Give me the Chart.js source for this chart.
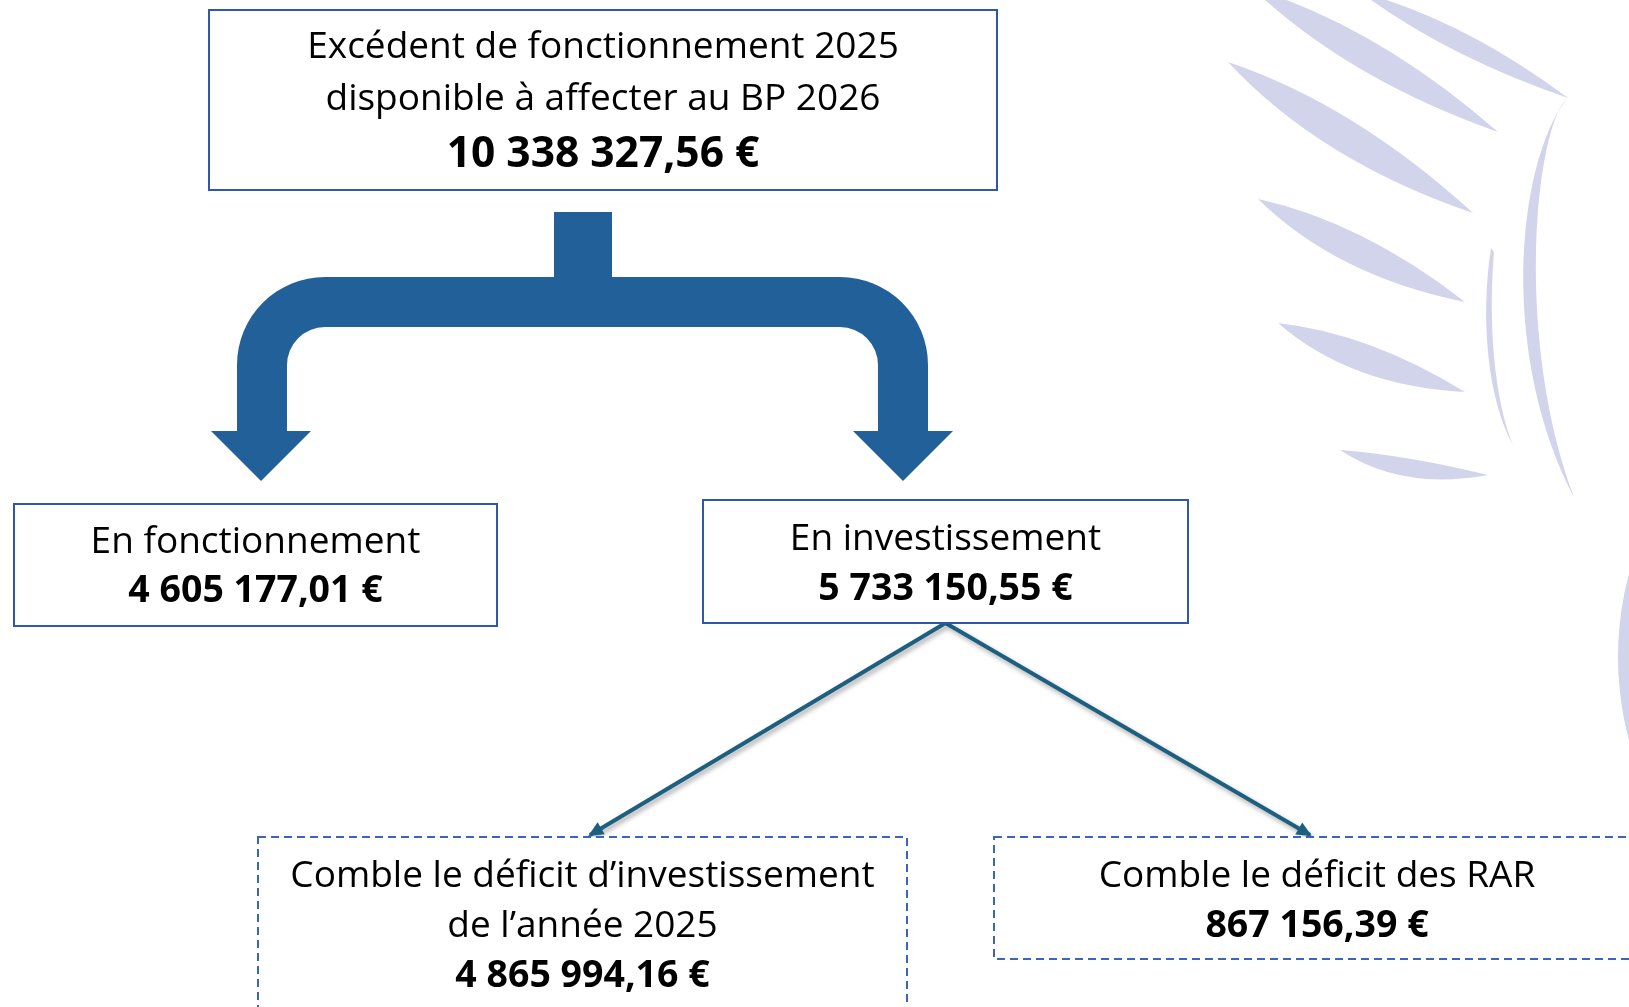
<!DOCTYPE html>
<html lang="fr">
<head>
  <meta charset="UTF-8">
  <title>Affectation du résultat 2025</title>
  <script src="https://cdn.jsdelivr.net/npm/chart.js"></script>
  <style>
    html, body { margin: 0; padding: 0; background: #fff; }
    canvas { display: block; }
  </style>
</head>
<body>
  <canvas id="schema" width="1629" height="1007"></canvas>

  <script>
    // Libellés et montants (le total se répartit entre les deux branches)
    const libelles = [
      ['Excédent de fonctionnement 2025', 'disponible à affecter au BP 2026'],
      ['En fonctionnement'],
      ['En investissement'],
      ['Comble le déficit d’investissement', 'de l’année 2025'],
      ['Comble le déficit des RAR']
    ];
    const montants = [10338327.56, 4605177.01, 5733150.55, 4865994.16, 867156.39];

    // Mise en page des cadres (unités des axes = pixels de l'image)
    const cadreX0 = [209, 14, 703, 258, 994];
    const cadreX1 = [997, 497, 1188, 907, 1660];
    const cadreY0 = [10, 504, 500, 837, 837];
    const cadreY1 = [190, 626, 623, 1030, 959];
    const premiereLigne = [58, 553, 550, 887, 887];
    const interligne = [52, 49, 50, 50, 50];
    const tailleMontant = [42.5, 37.5, 37.5, 37.5, 37.5];
    const pointilles = [false, false, false, true, true];

    // liens fléchés : cadre parent -> cadre enfant
    const liens = [[2, 3, 590], [2, 4, 1310]];

    function formatEuro(v) {
      const parts = v.toFixed(2).split('.');
      return parts[0].replace(/\B(?=(\d{3})+(?!\d))/g, ' ') + ',' + parts[1] + ' €';
    }

    const datasets = liens.map(l => ({
      type: 'line',
      data: [
        { x: (cadreX0[l[0]] + cadreX1[l[0]]) / 2, y: cadreY1[l[0]] },
        { x: l[2], y: cadreY0[l[1]] - 2 }
      ],
      borderColor: '#1d5f80',
      borderWidth: 4,
      pointRadius: 0,
      fill: false,
      clip: false
    }));

    const fondDessin = {
      id: 'fondDessin',
      beforeDatasetsDraw(chart) {
        const ctx = chart.ctx;
        const X = v => chart.scales.x.getPixelForValue(v);
        const Y = v => chart.scales.y.getPixelForValue(v);
        ctx.save();
        ctx.fillStyle = 'rgb(209,212,234)';
        // traits du filigrane : [x0, y0, x1, y1, courbure haute, courbure basse]
        const traits = [
          [1252, -12, 1498, 132, -30, 30],
          [1228, 62, 1473, 213, -30, 36],
          [1258, 199, 1465, 302, -26, 34],
          [1278, 323, 1465, 392, -22, 34],
          [1340, 450, 1488, 475, -6, 30],
          [1360, -8, 1568, 98, -22, 18]
        ];
        traits.forEach(t => {
          const [x0, y0, x1, y1, a, b] = t;
          const dx = x1 - x0, dy = y1 - y0, len = Math.hypot(dx, dy);
          const nx = -dy / len, ny = dx / len;
          const mx = x0 + dx * 0.45, my = y0 + dy * 0.45;
          ctx.beginPath();
          ctx.moveTo(X(x0), Y(y0));
          ctx.quadraticCurveTo(X(mx + nx * a), Y(my + ny * a), X(x1), Y(y1));
          ctx.quadraticCurveTo(X(mx + nx * b), Y(my + ny * b), X(x0), Y(y0));
          ctx.fill();
        });
        // grande courbe verticale
        ctx.beginPath();
        ctx.moveTo(X(1568), Y(96));
        ctx.bezierCurveTo(X(1513), Y(170), X(1502), Y(360), X(1574), Y(497));
        ctx.bezierCurveTo(X(1522), Y(360), X(1530), Y(175), X(1558), Y(112));
        ctx.closePath();
        ctx.fill();
        // fine courbe intérieure
        ctx.beginPath();
        ctx.moveTo(X(1491), Y(248));
        ctx.bezierCurveTo(X(1480), Y(320), X(1488), Y(400), X(1513), Y(445));
        ctx.bezierCurveTo(X(1494), Y(400), X(1488), Y(320), X(1494), Y(252));
        ctx.closePath();
        ctx.fill();
        // disque coupé au bord droit
        ctx.beginPath();
        ctx.arc(X(1938), Y(657), 320, 0, Math.PI * 2);
        ctx.fill();
        ctx.restore();

        // grande flèche bleue à deux branches
        ctx.save();
        ctx.fillStyle = '#22609a';
        ctx.beginPath();
        ctx.moveTo(X(554), Y(212));
        ctx.lineTo(X(612), Y(212));
        ctx.lineTo(X(612), Y(277));
        ctx.lineTo(X(840), Y(277));
        ctx.arcTo(X(928), Y(277), X(928), Y(365), 88);
        ctx.lineTo(X(928), Y(431));
        ctx.lineTo(X(953), Y(431));
        ctx.lineTo(X(903), Y(481));
        ctx.lineTo(X(853), Y(431));
        ctx.lineTo(X(878), Y(431));
        ctx.lineTo(X(878), Y(365));
        ctx.arcTo(X(878), Y(327), X(840), Y(327), 38);
        ctx.lineTo(X(325), Y(327));
        ctx.arcTo(X(287), Y(327), X(287), Y(365), 38);
        ctx.lineTo(X(287), Y(431));
        ctx.lineTo(X(311), Y(431));
        ctx.lineTo(X(261), Y(481));
        ctx.lineTo(X(211), Y(431));
        ctx.lineTo(X(237), Y(431));
        ctx.lineTo(X(237), Y(365));
        ctx.arcTo(X(237), Y(277), X(325), Y(277), 88);
        ctx.lineTo(X(554), Y(277));
        ctx.closePath();
        ctx.fill();
        ctx.restore();
      },
      beforeDatasetDraw(chart) {
        const ctx = chart.ctx;
        ctx.save();
        ctx.shadowColor = 'rgba(0,0,0,0.35)';
        ctx.shadowBlur = 5;
        ctx.shadowOffsetX = 2;
        ctx.shadowOffsetY = 3;
      },
      afterDatasetDraw(chart) {
        chart.ctx.restore();
      },
      afterDatasetsDraw(chart) {
        const ctx = chart.ctx;
        const X = v => chart.scales.x.getPixelForValue(v);
        const Y = v => chart.scales.y.getPixelForValue(v);

        // pointes des liens
        chart.data.datasets.forEach(ds => {
          const a = ds.data[0], b = ds.data[1];
          const x0 = X(a.x), y0 = Y(a.y), x1 = X(b.x), y1 = Y(b.y);
          const ang = Math.atan2(y1 - y0, x1 - x0);
          ctx.save();
          ctx.fillStyle = '#1d5f80';
          ctx.translate(x1, y1);
          ctx.rotate(ang);
          ctx.beginPath();
          ctx.moveTo(2, 0);
          ctx.lineTo(-13, -7);
          ctx.lineTo(-13, 7);
          ctx.closePath();
          ctx.fill();
          ctx.restore();
        });

        // cadres et textes
        libelles.forEach((lignes, i) => {
          const x0 = X(cadreX0[i]), x1 = X(cadreX1[i]);
          const y0 = Y(cadreY0[i]), y1 = Y(cadreY1[i]);
          ctx.save();
          ctx.fillStyle = '#ffffff';
          ctx.fillRect(x0, y0, x1 - x0, y1 - y0);
          ctx.lineWidth = 2;
          if (pointilles[i]) {
            ctx.strokeStyle = '#3b64bd';
            ctx.setLineDash([8, 5]);
          } else {
            ctx.strokeStyle = '#2f59a8';
          }
          ctx.strokeRect(x0, y0, x1 - x0, y1 - y0);
          ctx.restore();

          const cx = (cadreX0[i] + cadreX1[i]) / 2;
          const centreX = i === 4 ? X(1317) : X(cx);
          ctx.save();
          ctx.fillStyle = '#000';
          ctx.textAlign = 'center';
          ctx.textBaseline = 'alphabetic';
          let y = premiereLigne[i];
          lignes.forEach(t => {
            ctx.font = '37px "Open Sans"';
            ctx.fillText(t, centreX, Y(y));
            y += interligne[i];
          });
          ctx.font = 'bold ' + tailleMontant[i] + 'px "Open Sans"';
          ctx.fillText(formatEuro(montants[i]), centreX, Y(y + (i === 0 ? 5 : 0)));
          ctx.restore();
        });
      }
    };

    new Chart(document.getElementById('schema'), {
      type: 'line',
      data: { datasets: datasets },
      options: {
        responsive: false,
        animation: false,
        devicePixelRatio: 1,
        layout: { padding: 0 },
        plugins: { legend: { display: false }, tooltip: { enabled: false } },
        events: [],
        scales: {
          x: { type: 'linear', min: 0, max: 1629, display: false },
          y: { type: 'linear', min: 0, max: 1007, reverse: true, display: false }
        }
      },
      plugins: [fondDessin]
    });
  </script>
</body>
</html>
